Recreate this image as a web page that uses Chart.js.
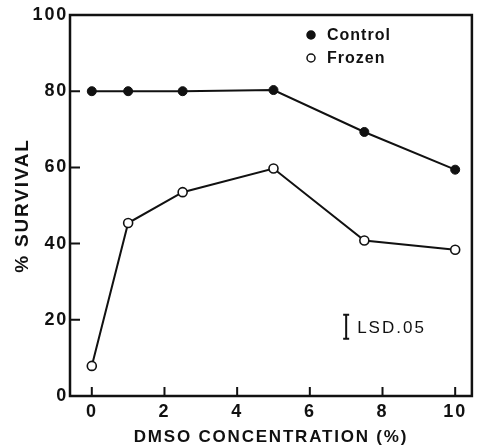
<!DOCTYPE html>
<html lang="en">
<head>
    <meta charset="UTF-8">
    <title>% Survival vs DMSO Concentration</title>
    <style>
        body { margin: 0; background: #fff; }
        #chart { display: block; }
    </style>
    <script src="https://cdn.jsdelivr.net/npm/chart.js"></script>
</head>
<body>
    <canvas id="chart" width="478" height="448"></canvas>

    <script>
        // data
        const doses = [0, 1, 2.5, 5, 7.5, 10];
        const controlSurvival = [80, 80, 80, 80.3, 69.3, 59.4];
        const frozenSurvival = [7.9, 45.4, 53.5, 59.7, 40.8, 38.4];
        const xTicks = [0, 2, 4, 6, 8, 10];
        const yTicks = [0, 20, 40, 60, 80, 100];
        // LSD .05 bar
        const lsdX = [7];
        const lsdRange = [15.0, 21.3];
        const lsdLabel = 'LSD.05';

        const FONT = '"Liberation Sans", Arial, sans-serif';
        const INK = '#111';

        // the old typeset lettering is spaced out a little
        const spacing = {
            id: 'spacing',
            beforeDraw(chart) {
                chart.ctx.letterSpacing = '1.8px';
            }
        };

        // frame, inward ticks, legend and LSD bar
        const decor = {
            id: 'decor',
            afterDraw(chart) {
                const ctx = chart.ctx;
                const area = chart.chartArea;
                const xs = chart.scales.x, ys = chart.scales.y;
                ctx.save();
                ctx.strokeStyle = INK;
                ctx.lineWidth = 2.5;
                ctx.strokeRect(area.left, area.top, area.right - area.left, area.bottom - area.top);

                // ticks pointing into the plot
                ctx.lineWidth = 2;
                ctx.beginPath();
                xs.ticks.forEach(t => {
                    const px = xs.getPixelForValue(t.value);
                    ctx.moveTo(px, area.bottom);
                    ctx.lineTo(px, area.bottom - 9);
                });
                ys.ticks.forEach(t => {
                    const py = ys.getPixelForValue(t.value);
                    ctx.moveTo(area.left, py);
                    ctx.lineTo(area.left + 10, py);
                });
                ctx.stroke();

                // legend
                ctx.letterSpacing = '1px';
                ctx.font = 'bold 16px ' + FONT;
                ctx.textBaseline = 'middle';
                chart.data.datasets.forEach((ds, i) => {
                    const cx = area.left + 241;
                    const cy = area.top + 20 + i * 23;
                    ctx.beginPath();
                    ctx.arc(cx, cy, 4, 0, Math.PI * 2);
                    ctx.fillStyle = ds.pointBackgroundColor;
                    ctx.fill();
                    ctx.lineWidth = 1.5;
                    ctx.strokeStyle = INK;
                    ctx.stroke();
                    ctx.fillStyle = INK;
                    ctx.fillText(ds.label, cx + 16, cy + 1);
                });

                // LSD bar
                const bx = xs.getPixelForValue(lsdX[0]);
                const top = ys.getPixelForValue(lsdRange[1]);
                const bot = ys.getPixelForValue(lsdRange[0]);
                ctx.lineWidth = 2;
                ctx.beginPath();
                ctx.moveTo(bx, top); ctx.lineTo(bx, bot);
                ctx.moveTo(bx - 3, top); ctx.lineTo(bx + 3, top);
                ctx.moveTo(bx - 3, bot); ctx.lineTo(bx + 3, bot);
                ctx.stroke();
                ctx.letterSpacing = '2px';
                ctx.font = '17px ' + FONT;
                ctx.fillText(lsdLabel, bx + 11, (top + bot) / 2 + 1);
                ctx.restore();
            }
        };

        new Chart(document.getElementById('chart'), {
            type: 'line',
            data: {
                datasets: [
                    {
                        label: 'Control',
                        data: doses.map((d, i) => ({ x: d, y: controlSurvival[i] })),
                        borderColor: INK,
                        borderWidth: 2,
                        pointRadius: 4.5,
                        pointBackgroundColor: INK,
                        pointBorderColor: INK,
                        pointBorderWidth: 1,
                        tension: 0
                    },
                    {
                        label: 'Frozen',
                        data: doses.map((d, i) => ({ x: d, y: frozenSurvival[i] })),
                        borderColor: INK,
                        borderWidth: 2,
                        pointRadius: 4.5,
                        pointBackgroundColor: '#fff',
                        pointBorderColor: INK,
                        pointBorderWidth: 1.6,
                        tension: 0
                    }
                ]
            },
            options: {
                responsive: false,
                animation: false,
                layout: { padding: { top: 15, right: 1, left: 0, bottom: 0 } },
                plugins: {
                    legend: { display: false },
                    tooltip: { enabled: false }
                },
                scales: {
                    x: {
                        type: 'linear',
                        min: -0.6,
                        max: 10.46,
                        afterBuildTicks: s => { s.ticks = xTicks.map(v => ({ value: v })); },
                        afterFit: s => { s.height = 52; },
                        grid: { display: false, drawTicks: false },
                        border: { display: false },
                        ticks: {
                            padding: 5,
                            color: INK,
                            font: { family: FONT, size: 18, weight: 'bold' },
                            maxRotation: 0
                        },
                        title: {
                            display: true,
                            text: 'DMSO CONCENTRATION (%)',
                            color: INK,
                            font: { family: FONT, size: 17, weight: 'bold' },
                            padding: { top: 0, bottom: 0 }
                        }
                    },
                    y: {
                        min: 0,
                        max: 100,
                        afterBuildTicks: s => { s.ticks = yTicks.map(v => ({ value: v })); },
                        afterFit: s => { s.width = 70; },
                        grid: { display: false, drawTicks: false },
                        border: { display: false },
                        ticks: {
                            padding: 2,
                            color: INK,
                            font: { family: FONT, size: 18, weight: 'bold' }
                        },
                        title: {
                            display: true,
                            text: '% SURVIVAL',
                            color: INK,
                            font: { family: FONT, size: 19, weight: 'bold' },
                            padding: { top: 11, bottom: 0 }
                        }
                    }
                }
            },
            plugins: [spacing, decor]
        });
    </script>
</body>
</html>
